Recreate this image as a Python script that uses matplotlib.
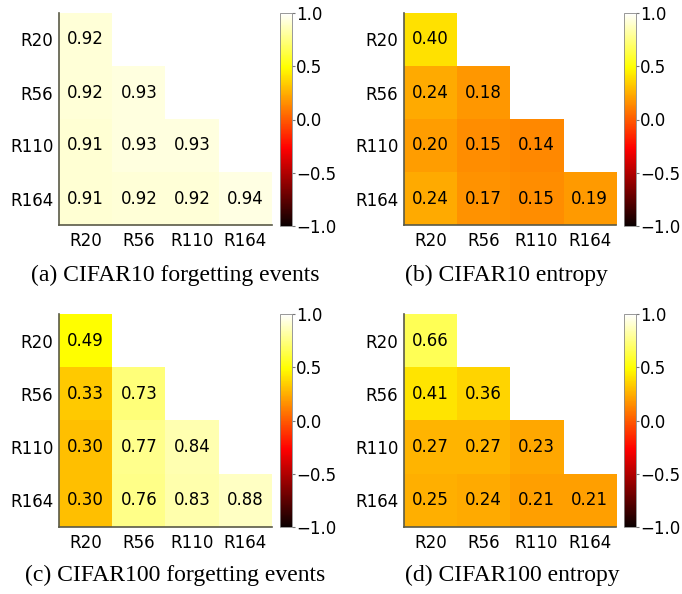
import numpy as np
import matplotlib
matplotlib.use('Agg')
from matplotlib import pyplot as plt

# model names on both axes
models = ['R20', 'R56', 'R110', 'R164']

# lower-triangular correlation values (row = y model, col = x model)
c10_forget = [[0.92, None, None, None],
              [0.92, 0.93, None, None],
              [0.91, 0.93, 0.93, None],
              [0.91, 0.92, 0.92, 0.94]]
c10_entropy = [[0.40, None, None, None],
               [0.24, 0.18, None, None],
               [0.20, 0.15, 0.14, None],
               [0.24, 0.17, 0.15, 0.19]]
c100_forget = [[0.49, None, None, None],
               [0.33, 0.73, None, None],
               [0.30, 0.77, 0.84, None],
               [0.30, 0.76, 0.83, 0.88]]
c100_entropy = [[0.66, None, None, None],
                [0.41, 0.36, None, None],
                [0.27, 0.27, 0.23, None],
                [0.25, 0.24, 0.21, 0.21]]

captions = ['(a) CIFAR10 forgetting events', '(b) CIFAR10 entropy',
            '(c) CIFAR100 forgetting events', '(d) CIFAR100 entropy']

W, H = 682, 594


def px_rect(x0, y0, x1, y1):
	# pixel box (top-left origin) -> figure fraction rect
	return [x0 / W, 1 - y1 / H, (x1 - x0) / W, (y1 - y0) / H]


def draw_heat(fig, data, heat_px, cbar_px, caption, cap_xy):
	ax = fig.add_axes(px_rect(*heat_px))
	cax = fig.add_axes(px_rect(*cbar_px))
	arr = np.array([[np.nan if v is None else v for v in row] for row in data])
	m = np.ma.masked_invalid(arr)
	im = ax.imshow(m, cmap='hot', vmin=-1, vmax=1, aspect='auto',
	               interpolation='nearest')
	n = len(models)
	for i in range(n):
		for j in range(n):
			if not np.isnan(arr[i, j]):
				ax.text(j, i, '%.2f' % arr[i, j], ha='center', va='center',
				        fontsize=12, color='black')
	ax.set_xticks(range(n))
	ax.set_yticks(range(n))
	ax.set_xticklabels(models, fontsize=12)
	ax.set_yticklabels(models, fontsize=12)
	ax.tick_params(axis='x', length=0, pad=5)
	ax.tick_params(axis='y', length=0, pad=4)
	for s in ['top', 'right']:
		ax.spines[s].set_visible(False)
	for s in ['left', 'bottom']:
		ax.spines[s].set_color('#5a5a48')
		ax.spines[s].set_linewidth(1.2)

	cb = fig.colorbar(im, cax=cax, ticks=[-1, -0.5, 0, 0.5, 1])
	cb.ax.tick_params(labelsize=12, length=2, width=0.8, color='#777777', pad=1)
	cb.outline.set_linewidth(0.6)
	cb.outline.set_edgecolor('#888888')

	fig.text(cap_xy[0] / W, 1 - cap_xy[1] / H, caption, ha='center', va='center',
	         fontsize=17, family='Liberation Serif')


if __name__ == '__main__':
	plt.rcParams['font.family'] = 'DejaVu Sans'
	fig = plt.figure(figsize=(W / 100, H / 100), dpi=100)

	draw_heat(fig, c10_forget, (59, 13, 272, 225), (280, 13, 292, 226), captions[0], (175, 275))
	draw_heat(fig, c10_entropy, (404, 13, 616, 225), (624, 13, 636, 226), captions[1], (506, 275))
	draw_heat(fig, c100_forget, (59, 314, 272, 527), (280, 314, 292, 527), captions[2], (175, 575))
	draw_heat(fig, c100_entropy, (404, 314, 616, 527), (624, 314, 636, 527), captions[3], (512, 575))

	fig.savefig('out.png', dpi=100)
